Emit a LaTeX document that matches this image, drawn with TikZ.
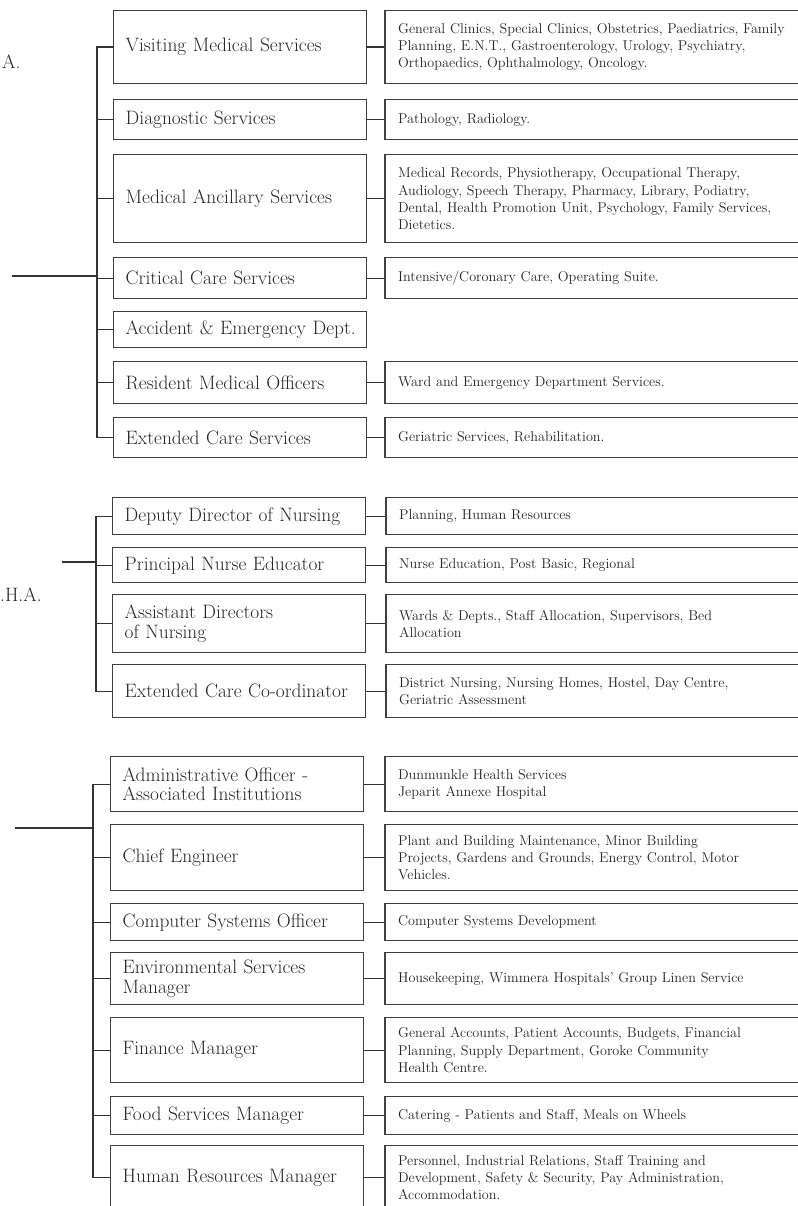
\documentclass[tikz,border=0pt]{standalone}
\usetikzlibrary{positioning}

\begin{document}
\begin{tikzpicture}[x=1pt, y=-1pt,
            head/.style={rectangle, draw=black!75, line width=1.4pt, anchor=north west,
                minimum width=253pt, text width=229pt, inner xsep=12pt, inner ysep=0pt,
                align=left, text=black!85, font=\fontsize{19.4}{19.5}\selectfont},
            duty/.style={rectangle, draw=black!75, line width=1.4pt,
                minimum width=446pt, text width=420pt, inner xsep=13pt, inner ysep=0pt,
                align=left, text=black!85, font=\fontsize{14.2}{17.2}\selectfont},
            link/.style={draw=black!80, line width=1.4pt},
            tag/.style={anchor=west, inner sep=0pt, text=black!85, font=\fontsize{19.4}{19.5}\selectfont}
        ]
        \useasboundingbox (0,0) rectangle (797,1206);

        %labels
        \node[tag] (labA) at (2,62) {A.};
        \node[tag] (labB) at (0,595) {.H.A.};

        %medical blocks
        \node[head, minimum height=73pt] (vms) at (113,10)  {Visiting Medical Services};
        \node[head, minimum height=40pt] (ds)  at (113,99)  {Diagnostic Services};
        \node[head, minimum height=88pt] (mas) at (113,154) {Medical Ancillary Services};
        \node[head, minimum height=41pt] (ccs) at (113,257) {Critical Care Services};
        \node[head, minimum height=36pt] (aed) at (113,311) {\mbox{Accident \& Emergency Dept.}};
        \node[head, minimum height=42pt] (rmo) at (113,361) {Resident Medical Officers};
        \node[head, minimum height=40pt] (ecs) at (113,417) {Extended Care Services};

        \node[duty, minimum height=73pt, right=17pt of vms] (vms-r) {General Clinics, Special Clinics, Obstetrics, Paediatrics, Family\\Planning, E.N.T., Gastroenterology, Urology, Psychiatry,\\Orthopaedics, Ophthalmology, Oncology.};
        \node[duty, minimum height=40pt, right=17pt of ds]  (ds-r)  {Pathology, Radiology.};
        \node[duty, minimum height=88pt, right=17pt of mas] (mas-r) {Medical Records, Physiotherapy, Occupational Therapy,\\Audiology, Speech Therapy, Pharmacy, Library, Podiatry,\\Dental, Health Promotion Unit, Psychology, Family Services,\\Dietetics.};
        \node[duty, minimum height=41pt, right=17pt of ccs] (ccs-r) {Intensive/Coronary Care, Operating Suite.};
        \node[duty, minimum height=42pt, right=17pt of rmo] (rmo-r) {Ward and Emergency Department Services.};
        \node[duty, minimum height=40pt, right=17pt of ecs] (ecs-r) {Geriatric Services, Rehabilitation.};

        %nursing blocks
        \node[head, minimum height=37pt] (dir) at (112,497) {Deputy Director of Nursing};
        \node[head, minimum height=35pt] (pne) at (112,547) {Principal Nurse Educator};
        \node[head, minimum height=58pt] (adn) at (112,594) {Assistant Directors\\of Nursing};
        \node[head, minimum height=53pt] (ecc) at (112,664) {Extended Care Co-ordinator};

        \node[duty, minimum height=37pt, right=19pt of dir] (dir-r) {Planning, Human Resources};
        \node[duty, minimum height=35pt, right=19pt of pne] (pne-r) {Nurse Education, Post Basic, Regional};
        \node[duty, minimum height=58pt, right=19pt of adn] (adn-r) {Wards \& Depts., Staff Allocation, Supervisors, Bed\\Allocation};
        \node[duty, minimum height=53pt, right=19pt of ecc] (ecc-r) {District Nursing, Nursing Homes, Hostel, Day Centre,\\Geriatric Assessment};

        %administration blocks
        \node[head, minimum height=55pt] (aoi) at (110,756)  {Administrative Officer -\\Associated Institutions};
        \node[head, minimum height=66pt] (ce)  at (110,824)  {Chief Engineer};
        \node[head, minimum height=37pt] (cso) at (110,903)  {Computer Systems Officer};
        \node[head, minimum height=52pt] (esm) at (110,952)  {Environmental Services\\Manager};
        \node[head, minimum height=65pt] (fm)  at (110,1017) {Finance Manager};
        \node[head, minimum height=38pt] (fsm) at (110,1096) {Food Services Manager};
        \node[head, minimum height=64pt] (hrm) at (110,1145) {Human Resources Manager};

        \node[duty, minimum height=55pt, right=20pt of aoi] (aoi-r) {Dunmunkle Health Services\\Jeparit Annexe Hospital};
        \node[duty, minimum height=66pt, right=20pt of ce]  (ce-r)  {Plant and Building Maintenance, Minor Building\\Projects, Gardens and Grounds, Energy Control, Motor\\Vehicles.};
        \node[duty, minimum height=37pt, right=20pt of cso] (cso-r) {Computer Systems Development};
        \node[duty, minimum height=52pt, right=20pt of esm] (esm-r) {Housekeeping, Wimmera Hospitals' Group Linen Service};
        \node[duty, minimum height=65pt, right=20pt of fm]  (fm-r)  {General Accounts, Patient Accounts, Budgets, Financial\\Planning, Supply Department, Goroke Community\\Health Centre.};
        \node[duty, minimum height=38pt, right=20pt of fsm] (fsm-r) {Catering - Patients and Staff, Meals on Wheels};
        \node[duty, minimum height=64pt, right=20pt of hrm] (hrm-r) {Personnel, Industrial Relations, Staff Training and\\Development, Safety \& Security, Pay Administration,\\Accommodation.};

        %in coordinates
        \coordinate (inA) at (12,276);
        \coordinate (jA)  at (97,276);
        \coordinate (inB) at (62,562);
        \coordinate (jB)  at (96,562);
        \coordinate (inC) at (15,828);
        \coordinate (jC)  at (93,828);

        %trunks and buses
        \draw[link] (inA) -- (jA);
        \draw[link] (inB) -- (jB);
        \draw[link] (inC) -- (jC);
        \draw[link] (vms.west) -- ++(-16,0) |- (ecs.west);
        \draw[link] (dir.west) -- ++(-16,0) |- (ecc.west);
        \draw[link] (aoi.west) -- ++(-17,0) |- (hrm.west);
        \foreach \n in {ds,mas,ccs,aed,rmo}
            \draw[link] (\n.west) -- ++(-16,0);
        \foreach \n in {pne,adn}
            \draw[link] (\n.west) -- ++(-16,0);
        \foreach \n in {ce,cso,esm,fm,fsm}
            \draw[link] (\n.west) -- ++(-17,0);

        %duties
        \foreach \n in {vms,ds,mas,ccs,rmo,ecs,dir,pne,adn,ecc,aoi,ce,cso,esm,fm,fsm,hrm}
            \draw[link] (\n.east) -- (\n-r.west);

\end{tikzpicture}
\end{document}
